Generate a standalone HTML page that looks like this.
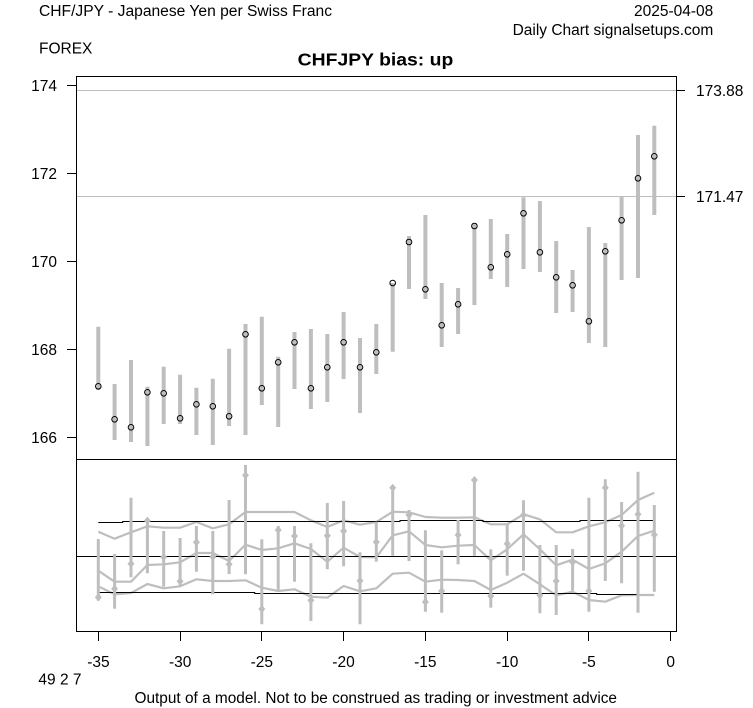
<!DOCTYPE html>
<html><head><meta charset="utf-8"><style>
html,body{margin:0;padding:0;background:#fff;}
svg{display:block;}
text{font-family:"Liberation Sans",Arial,sans-serif;fill:#000;}
</style></head><body>
<svg width="753" height="708" viewBox="0 0 753 708" xmlns="http://www.w3.org/2000/svg">
<rect width="753" height="708" fill="#fff"/>
<!-- header -->
<text x="39" y="16" font-size="15.5" textLength="293" lengthAdjust="spacingAndGlyphs">CHF/JPY - Japanese Yen per Swiss Franc</text>
<text x="713.3" y="16" font-size="15.5" text-anchor="end">2025-04-08</text>
<text x="713.3" y="35" font-size="15.5" text-anchor="end">Daily Chart signalsetups.com</text>
<text x="39" y="53.3" font-size="15.5">FOREX</text>
<text x="297.7" y="65.7" font-size="17.5" font-weight="bold" textLength="155.6" lengthAdjust="spacingAndGlyphs">CHFJPY bias: up</text>

<!-- reference lines -->
<g stroke="#bebebe" stroke-width="1">
<line x1="76.5" x2="676.5" y1="90.5" y2="90.5"/>
<line x1="76.5" x2="676.5" y1="196.5" y2="196.5"/>
</g>

<!-- upper bars -->
<g stroke="#bebebe" stroke-width="4">
<line x1="98.3" x2="98.3" y1="326.7" y2="390"/>
<line x1="114.6" x2="114.6" y1="384" y2="440"/>
<line x1="131.0" x2="131.0" y1="360" y2="442"/>
<line x1="147.4" x2="147.4" y1="386.7" y2="446"/>
<line x1="163.7" x2="163.7" y1="366.7" y2="424"/>
<line x1="180.1" x2="180.1" y1="374.7" y2="424"/>
<line x1="196.4" x2="196.4" y1="387.7" y2="435"/>
<line x1="212.8" x2="212.8" y1="378.7" y2="445"/>
<line x1="229.1" x2="229.1" y1="348.7" y2="426"/>
<line x1="245.5" x2="245.5" y1="324" y2="435"/>
<line x1="261.8" x2="261.8" y1="316.7" y2="405"/>
<line x1="278.2" x2="278.2" y1="356.7" y2="427"/>
<line x1="294.5" x2="294.5" y1="332" y2="389"/>
<line x1="310.9" x2="310.9" y1="329" y2="409"/>
<line x1="327.3" x2="327.3" y1="334" y2="402"/>
<line x1="343.6" x2="343.6" y1="312" y2="379"/>
<line x1="360.0" x2="360.0" y1="338" y2="413"/>
<line x1="376.3" x2="376.3" y1="324" y2="374"/>
<line x1="392.7" x2="392.7" y1="283" y2="351.7"/>
<line x1="409.0" x2="409.0" y1="236" y2="289"/>
<line x1="425.4" x2="425.4" y1="215" y2="299"/>
<line x1="441.7" x2="441.7" y1="283" y2="347"/>
<line x1="458.1" x2="458.1" y1="288" y2="334"/>
<line x1="474.4" x2="474.4" y1="223" y2="305"/>
<line x1="490.8" x2="490.8" y1="219" y2="279"/>
<line x1="507.2" x2="507.2" y1="234" y2="287"/>
<line x1="523.5" x2="523.5" y1="197.3" y2="269"/>
<line x1="539.9" x2="539.9" y1="201" y2="272"/>
<line x1="556.2" x2="556.2" y1="241" y2="313"/>
<line x1="572.6" x2="572.6" y1="270" y2="312"/>
<line x1="588.9" x2="588.9" y1="227" y2="343"/>
<line x1="605.3" x2="605.3" y1="243" y2="347"/>
<line x1="621.6" x2="621.6" y1="197" y2="280"/>
<line x1="638.0" x2="638.0" y1="135" y2="278"/>
<line x1="654.3" x2="654.3" y1="125.7" y2="215"/>
</g>
<!-- close circles -->
<g fill="none" stroke="#000" stroke-width="1">
<circle cx="98.3" cy="386.3" r="2.8"/>
<circle cx="114.6" cy="419.3" r="2.8"/>
<circle cx="131.0" cy="427.3" r="2.8"/>
<circle cx="147.4" cy="392.3" r="2.8"/>
<circle cx="163.7" cy="393.3" r="2.8"/>
<circle cx="180.1" cy="418.3" r="2.8"/>
<circle cx="196.4" cy="404.3" r="2.8"/>
<circle cx="212.8" cy="406.3" r="2.8"/>
<circle cx="229.1" cy="416.3" r="2.8"/>
<circle cx="245.5" cy="334.3" r="2.8"/>
<circle cx="261.8" cy="388.3" r="2.8"/>
<circle cx="278.2" cy="362.3" r="2.8"/>
<circle cx="294.5" cy="342.3" r="2.8"/>
<circle cx="310.9" cy="388.3" r="2.8"/>
<circle cx="327.3" cy="367.3" r="2.8"/>
<circle cx="343.6" cy="342.3" r="2.8"/>
<circle cx="360.0" cy="367.3" r="2.8"/>
<circle cx="376.3" cy="352.3" r="2.8"/>
<circle cx="392.7" cy="283" r="2.8"/>
<circle cx="409.0" cy="242" r="2.8"/>
<circle cx="425.4" cy="289.3" r="2.8"/>
<circle cx="441.7" cy="325.3" r="2.8"/>
<circle cx="458.1" cy="304.3" r="2.8"/>
<circle cx="474.4" cy="226" r="2.8"/>
<circle cx="490.8" cy="267.3" r="2.8"/>
<circle cx="507.2" cy="254.3" r="2.8"/>
<circle cx="523.5" cy="213.3" r="2.8"/>
<circle cx="539.9" cy="252.3" r="2.8"/>
<circle cx="556.2" cy="277.3" r="2.8"/>
<circle cx="572.6" cy="285.3" r="2.8"/>
<circle cx="588.9" cy="321.3" r="2.8"/>
<circle cx="605.3" cy="251.3" r="2.8"/>
<circle cx="621.6" cy="220.3" r="2.8"/>
<circle cx="638.0" cy="178.3" r="2.8"/>
<circle cx="654.3" cy="156.3" r="2.8"/>
</g>

<!-- lower panel band lines -->
<g fill="none" stroke="#bebebe" stroke-width="2.2" stroke-linejoin="round">
<polyline points="98.3,531.7 114.6,538.7 131.0,532.3 147.4,526.3 163.7,527.7 180.1,527.7 196.4,522 212.8,528.3 229.1,524.3 245.5,512 261.8,512 278.2,512 294.5,512 310.9,520.3 327.3,527 343.6,520.3 360.0,524.7 376.3,522 392.7,511.7 409.0,512.3 425.4,517 441.7,517.7 458.1,517.7 474.4,517.3 490.8,524.3 507.2,524.3 523.5,514.3 539.9,519.3 556.2,532.3 572.6,532.3 588.9,526.3 605.3,522.3 621.6,515 638.0,500 654.3,492.7"/>
<polyline points="98.3,570.7 114.6,581.7 131.0,581.7 147.4,565 163.7,564.3 180.1,562.3 196.4,553 212.8,553 229.1,561 245.5,544.7 261.8,550 278.2,548.3 294.5,543.3 310.9,549 327.3,561.7 343.6,547.7 360.0,557 376.3,557.3 392.7,535.3 409.0,531.3 425.4,545 441.7,547.3 458.1,545.7 474.4,545 490.8,560.3 507.2,549.3 523.5,534.3 539.9,549.3 556.2,565.3 572.6,559.7 588.9,569 605.3,563.3 621.6,551.7 638.0,536 654.3,530.7"/>
<polyline points="98.3,586.3 114.6,594.3 131.0,593 147.4,584 163.7,588.3 180.1,586.3 196.4,579.3 212.8,581 229.1,581 245.5,580.3 261.8,587.7 278.2,591 294.5,589.3 310.9,596.7 327.3,597.7 343.6,586 360.0,591.3 376.3,588.3 392.7,573.7 409.0,572.7 425.4,581.7 441.7,579.7 458.1,580 474.4,581 490.8,590 507.2,582.7 523.5,573.7 539.9,584.3 556.2,595.3 572.6,591.7 588.9,600 605.3,601.7 621.6,595.3 638.0,595 654.3,595"/>
</g>

<!-- black reference lines lower panel -->
<g fill="none" stroke="#000" stroke-width="1">
<polyline points="98.3,522.5 122.7,522.5 122.7,521.5 400,521.5 400,520.5 483,520.5 483,521.5 580,521.5 580,520.5 654.3,520.5"/>
<line x1="76.5" x2="676.5" y1="556.5" y2="556.5"/>
<polyline points="98.3,592.5 254.7,592.5 254.7,593.5 596.7,593.5 596.7,594.5 637.3,594.5"/>
</g>

<!-- lower error bars -->
<g stroke="#bebebe" stroke-width="3">
<line x1="98.3" x2="98.3" y1="539" y2="600.7"/>
<line x1="114.6" x2="114.6" y1="554" y2="608.7"/>
<line x1="131.0" x2="131.0" y1="497.7" y2="577.3"/>
<line x1="147.4" x2="147.4" y1="518.3" y2="573.3"/>
<line x1="163.7" x2="163.7" y1="531" y2="586.7"/>
<line x1="180.1" x2="180.1" y1="538" y2="585.7"/>
<line x1="196.4" x2="196.4" y1="526" y2="571.7"/>
<line x1="212.8" x2="212.8" y1="531" y2="594.3"/>
<line x1="229.1" x2="229.1" y1="500" y2="574"/>
<line x1="245.5" x2="245.5" y1="465" y2="574.3"/>
<line x1="261.8" x2="261.8" y1="539.3" y2="624.3"/>
<line x1="278.2" x2="278.2" y1="526" y2="591.7"/>
<line x1="294.5" x2="294.5" y1="526" y2="581.7"/>
<line x1="310.9" x2="310.9" y1="543.3" y2="621"/>
<line x1="327.3" x2="327.3" y1="503" y2="569.3"/>
<line x1="343.6" x2="343.6" y1="501" y2="566.3"/>
<line x1="360.0" x2="360.0" y1="552.3" y2="624.3"/>
<line x1="376.3" x2="376.3" y1="521.7" y2="561.7"/>
<line x1="392.7" x2="392.7" y1="486" y2="555.7"/>
<line x1="409.0" x2="409.0" y1="510" y2="561"/>
<line x1="425.4" x2="425.4" y1="530.3" y2="611.7"/>
<line x1="441.7" x2="441.7" y1="550.3" y2="612.7"/>
<line x1="458.1" x2="458.1" y1="520" y2="564.3"/>
<line x1="474.4" x2="474.4" y1="478.3" y2="555.7"/>
<line x1="490.8" x2="490.8" y1="549.3" y2="607.7"/>
<line x1="507.2" x2="507.2" y1="524.3" y2="575.7"/>
<line x1="523.5" x2="523.5" y1="500.3" y2="570.7"/>
<line x1="539.9" x2="539.9" y1="545" y2="613.3"/>
<line x1="556.2" x2="556.2" y1="545" y2="615"/>
<line x1="572.6" x2="572.6" y1="549" y2="590.7"/>
<line x1="588.9" x2="588.9" y1="497.7" y2="611.7"/>
<line x1="605.3" x2="605.3" y1="479.3" y2="581"/>
<line x1="621.6" x2="621.6" y1="502" y2="583.3"/>
<line x1="638.0" x2="638.0" y1="471.7" y2="612.7"/>
<line x1="654.3" x2="654.3" y1="505" y2="591.7"/>
</g>
<!-- diamonds -->
<g fill="#bebebe">
<polygon points="98.3,593.3 101.8,597.3 98.3,601.3 94.8,597.3"/>
<polygon points="114.6,584.7 118.1,588.7 114.6,592.7 111.1,588.7"/>
<polygon points="131.0,559.7 134.5,563.7 131.0,567.7 127.5,563.7"/>
<polygon points="147.4,516.7 150.9,520.7 147.4,524.7 143.9,520.7"/>
<polygon points="163.7,553 167.2,557 163.7,561 160.2,557"/>
<polygon points="180.1,577.3 183.6,581.3 180.1,585.3 176.6,581.3"/>
<polygon points="196.4,538.3 199.9,542.3 196.4,546.3 192.9,542.3"/>
<polygon points="212.8,553 216.3,557 212.8,561 209.3,557"/>
<polygon points="229.1,560.3 232.6,564.3 229.1,568.3 225.6,564.3"/>
<polygon points="245.5,471.3 249,475.3 245.5,479.3 242,475.3"/>
<polygon points="261.8,605 265.3,609 261.8,613 258.3,609"/>
<polygon points="278.2,526 281.7,530 278.2,534 274.7,530"/>
<polygon points="294.5,532 298,536 294.5,540 291,536"/>
<polygon points="310.9,596.3 314.4,600.3 310.9,604.3 307.4,600.3"/>
<polygon points="327.3,531.7 330.8,535.7 327.3,539.7 323.8,535.7"/>
<polygon points="343.6,527 347.1,531 343.6,535 340.1,531"/>
<polygon points="360.0,576.7 363.5,580.7 360.0,584.7 356.5,580.7"/>
<polygon points="376.3,538 379.8,542 376.3,546 372.8,542"/>
<polygon points="392.7,483.7 396.2,487.7 392.7,491.7 389.2,487.7"/>
<polygon points="409.0,511 412.5,515 409.0,519 405.5,515"/>
<polygon points="425.4,598 428.9,602 425.4,606 421.9,602"/>
<polygon points="441.7,587 445.2,591 441.7,595 438.2,591"/>
<polygon points="458.1,531 461.6,535 458.1,539 454.6,535"/>
<polygon points="474.4,476 477.9,480 474.4,484 470.9,480"/>
<polygon points="490.8,592 494.3,596 490.8,600 487.3,596"/>
<polygon points="507.2,539.7 510.7,543.7 507.2,547.7 503.7,543.7"/>
<polygon points="523.5,511 527,515 523.5,519 520,515"/>
<polygon points="539.9,591.3 543.4,595.3 539.9,599.3 536.4,595.3"/>
<polygon points="556.2,577 559.7,581 556.2,585 552.7,581"/>
<polygon points="572.6,558.3 576.1,562.3 572.6,566.3 569.1,562.3"/>
<polygon points="588.9,587 592.4,591 588.9,595 585.4,591"/>
<polygon points="605.3,483.7 608.8,487.7 605.3,491.7 601.8,487.7"/>
<polygon points="621.6,521.7 625.1,525.7 621.6,529.7 618.1,525.7"/>
<polygon points="638.0,510.3 641.5,514.3 638.0,518.3 634.5,514.3"/>
<polygon points="654.3,530.7 657.8,534.7 654.3,538.7 650.8,534.7"/>
</g>

<!-- frame -->
<g fill="none" stroke="#000" stroke-width="1">
<rect x="76.5" y="76.5" width="600" height="555"/>
<line x1="76.5" x2="676.5" y1="459.5" y2="459.5"/>
<!-- left ticks -->
<line x1="67" x2="76.5" y1="85.5" y2="85.5"/>
<line x1="67" x2="76.5" y1="173.5" y2="173.5"/>
<line x1="67" x2="76.5" y1="261.5" y2="261.5"/>
<line x1="67" x2="76.5" y1="349.5" y2="349.5"/>
<line x1="67" x2="76.5" y1="437.5" y2="437.5"/>
<!-- right ticks -->
<line x1="676.5" x2="685" y1="90.5" y2="90.5"/>
<line x1="676.5" x2="685" y1="196.5" y2="196.5"/>
<!-- bottom ticks -->
<line x1="98.5" x2="98.5" y1="631.5" y2="641"/>
<line x1="180.5" x2="180.5" y1="631.5" y2="641"/>
<line x1="261.5" x2="261.5" y1="631.5" y2="641"/>
<line x1="343.5" x2="343.5" y1="631.5" y2="641"/>
<line x1="425.5" x2="425.5" y1="631.5" y2="641"/>
<line x1="507.5" x2="507.5" y1="631.5" y2="641"/>
<line x1="588.5" x2="588.5" y1="631.5" y2="641"/>
<line x1="670.5" x2="670.5" y1="631.5" y2="641"/>
</g>

<!-- axis labels -->
<g font-size="15.5" text-anchor="end">
<text x="57" y="91">174</text>
<text x="57" y="179">172</text>
<text x="57" y="267">170</text>
<text x="57" y="355">168</text>
<text x="57" y="443">166</text>
</g>
<g font-size="15.5">
<text x="696" y="96">173.88</text>
<text x="696" y="202">171.47</text>
</g>
<g font-size="15.5" text-anchor="middle">
<text x="98.4" y="667">-35</text>
<text x="180.2" y="667">-30</text>
<text x="261.8" y="667">-25</text>
<text x="343.5" y="667">-20</text>
<text x="425.3" y="667">-15</text>
<text x="507.2" y="667">-10</text>
<text x="588.9" y="667">-5</text>
<text x="670.7" y="667">0</text>
</g>
<text x="38.4" y="684.5" font-size="15.5">49 2 7</text>
<text x="134.5" y="703" font-size="15.5" textLength="482.5" lengthAdjust="spacingAndGlyphs">Output of a model. Not to be construed as trading or investment advice</text>
</svg>
</body></html>
